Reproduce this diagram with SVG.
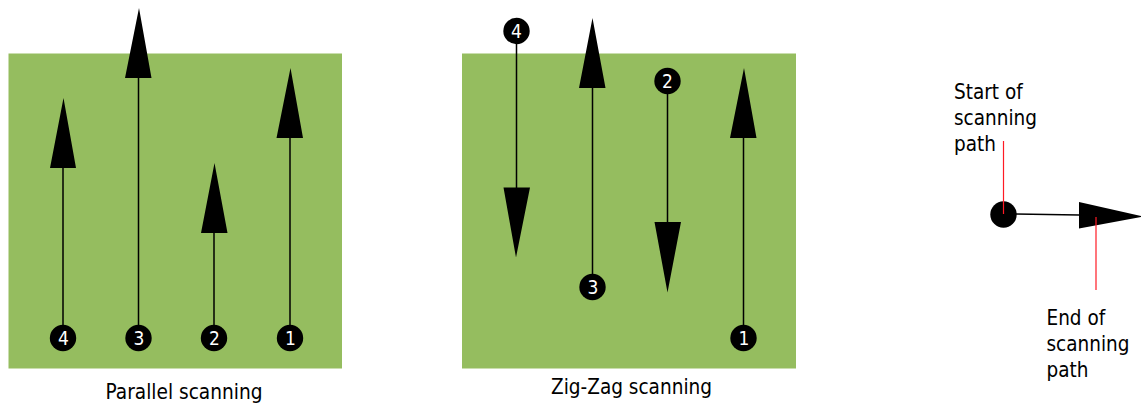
<svg xmlns="http://www.w3.org/2000/svg" width="1141" height="403" viewBox="0 0 1141 403">
<style>
.panel{fill:#95bd5f}
.dot{fill:#000}
.line{stroke:#000;stroke-width:1.5;fill:none}
.head{fill:#000}
.red{stroke:#ff1a24;stroke-width:1.2;fill:none}
text{font-family:"DejaVu Sans Condensed","DejaVu Sans",sans-serif;fill:#000;font-size:20.500px}
.num{fill:#fff;text-anchor:middle;font-size:19px}
</style>
<g id="panel-parallel"><rect class="panel" x="8.500" y="53.500" width="333.500" height="315"/></g>
<g id="panel-zigzag"><rect class="panel" x="462" y="53.500" width="334" height="315"/></g>
<g id="connectors">
<path class="line" d="M63 326V168M138.500 326V78M214 326V233M290 326V138"/>
<path class="head" d="M63.500 98L76 168H50ZM139 8L151.500 78H125ZM214.500 163L227.500 233H201ZM290.500 68L303 138H276.500Z"/>
<path class="line" d="M516.500 44V188M592.500 275V88M667.500 94V222M743.500 326V138"/>
<path class="head" d="M516 257.500L530 187.500H503.500ZM592.500 18L605.500 88H579ZM667.500 292.500L681 222H654.500ZM744 68L756.500 138H730Z"/>
<path class="line" d="M1016 214L1079 215"/>
<path class="head" d="M1079 202L1143 216.500L1079 228.500Z"/>
</g>
<g id="p1-4"><circle class="dot" cx="63" cy="338" r="13.200"/><text class="num" x="63.500" y="345">4</text></g>
<g id="p1-3"><circle class="dot" cx="138.500" cy="338" r="13.200"/><text class="num" x="139" y="345">3</text></g>
<g id="p1-2"><circle class="dot" cx="214" cy="338" r="13.200"/><text class="num" x="214.500" y="345">2</text></g>
<g id="p1-1"><circle class="dot" cx="290" cy="338" r="13.200"/><text class="num" x="290.500" y="345">1</text></g>
<g id="p2-4"><circle class="dot" cx="516.500" cy="31" r="13.200"/><text class="num" x="516.500" y="38">4</text></g>
<g id="p2-3"><circle class="dot" cx="592.500" cy="287" r="13.200"/><text class="num" x="593" y="294">3</text></g>
<g id="p2-2"><circle class="dot" cx="667.500" cy="81" r="13.200"/><text class="num" x="667.500" y="88">2</text></g>
<g id="p2-1"><circle class="dot" cx="743.500" cy="338" r="13.200"/><text class="num" x="744" y="345">1</text></g>
<g id="label-parallel"><text x="105.500" y="399" textLength="157" lengthAdjust="spacingAndGlyphs">Parallel scanning</text></g>
<g id="label-zigzag"><text x="551" y="394" textLength="161" lengthAdjust="spacingAndGlyphs">Zig-Zag scanning</text></g>
<g id="start">
<circle class="dot" cx="1003.500" cy="214.500" r="13.200"/>
<path class="red" d="M1003.500 141V214"/>
<text x="954" y="99">Start of</text><text x="954" y="125">scanning</text><text x="954" y="151">path</text>
</g>
<g id="end">
<path class="red" d="M1096 217V290"/>
<text x="1046.500" y="325">End of</text><text x="1046.500" y="351">scanning</text><text x="1046.500" y="377">path</text>
</g>
</svg>
